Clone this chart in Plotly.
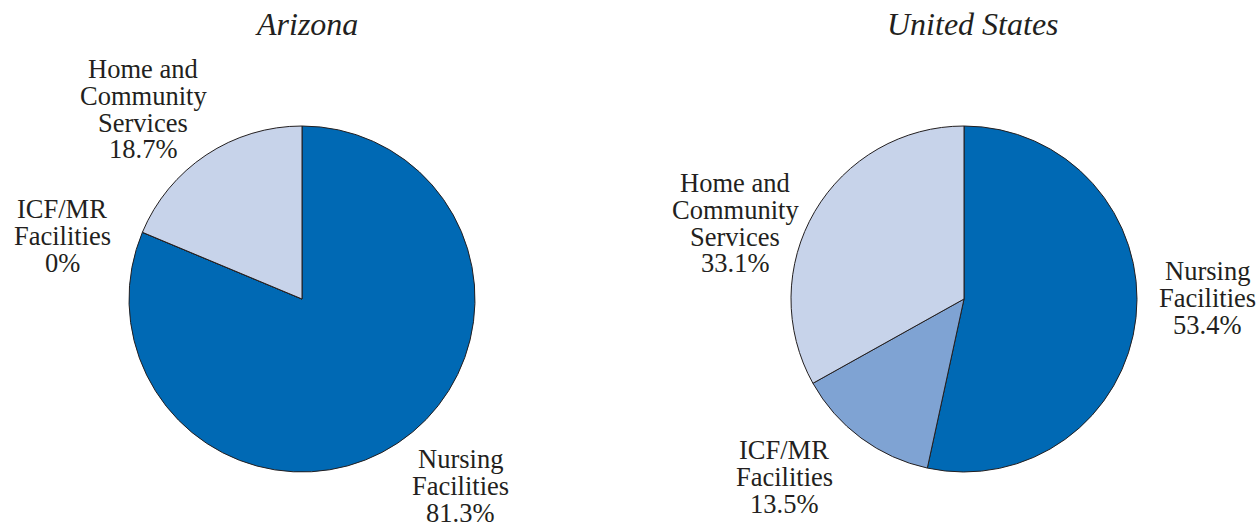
import plotly.graph_objects as go

categories = ["Nursing Facilities", "ICF/MR Facilities", "Home and Community Services"]
arizona_values = [81.3, 0.0, 18.7]
us_values = [53.4, 13.5, 33.1]
slice_colors = ["#0069B4", "#7FA3D3", "#C7D3EA"]
titles = ["Arizona", "United States"]

W, H = 1260, 522
FONT = "Liberation Serif, Times New Roman, serif"
TXT = "#231F20"

def px_x(x):
    return x / W

def px_y(y):
    return 1 - y / H

fig = go.Figure()

def add_pie(values, cx, cy, r, name):
    fig.add_trace(go.Pie(
        labels=categories, values=values, name=name,
        sort=False, direction="clockwise", rotation=0,
        marker=dict(colors=slice_colors, line=dict(color=TXT, width=1)),
        textinfo="none", hoverinfo="label+percent", showlegend=False,
        domain=dict(x=[px_x(cx - r), px_x(cx + r)], y=[px_y(cy + r), px_y(cy - r)]),
    ))

add_pie(arizona_values, 302, 299, 173, "Arizona")
add_pie(us_values, 964, 299, 173, "United States")

def label(lines, cx, y0, dy=26.8, size=26.5):
    for i, t in enumerate(lines):
        fig.add_annotation(text=t, x=px_x(cx), y=px_y(y0 + i * dy), xref="paper", yref="paper",
                           xanchor="center", yanchor="middle", showarrow=False,
                           font=dict(family=FONT, size=size, color=TXT))

def pct(v):
    return f"{v:g}%"

# Arizona labels
label(["Home and", "Community", "Services", pct(arizona_values[2])], 143, 69)
label(["ICF/MR", "Facilities", pct(arizona_values[1])], 62, 209)
label(["Nursing", "Facilities", pct(arizona_values[0])], 460, 459)
# United States labels
label(["Home and", "Community", "Services", pct(us_values[2])], 735, 183)
label(["ICF/MR", "Facilities", pct(us_values[1])], 784, 450)
label(["Nursing", "Facilities", pct(us_values[0])], 1207, 271)

# Titles
for t, cx in zip(titles, [306.5, 973]):
    fig.add_annotation(text=f"<i>{t}</i>", x=px_x(cx), y=px_y(24), xref="paper", yref="paper",
                       xanchor="center", yanchor="middle", showarrow=False,
                       font=dict(family=FONT, size=32, color=TXT))

fig.update_layout(width=W, height=H, margin=dict(l=0, r=0, t=0, b=0),
                  paper_bgcolor="white", plot_bgcolor="white")

fig.write_html("out.html", config={"displayModeBar": False},
               post_script="document.body.style.margin='0';document.body.style.overflow='hidden';")
